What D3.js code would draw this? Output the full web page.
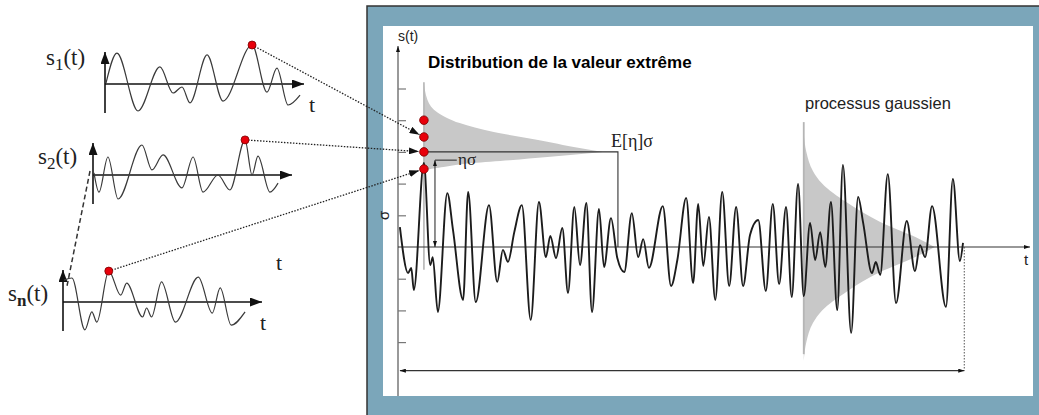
<!DOCTYPE html>
<html>
<head>
<meta charset="utf-8">
<script src="https://cdn.jsdelivr.net/npm/d3@7"></script>
<style>
  body { margin: 0; background: #fff; }
  svg { display: block; }
</style>
</head>
<body>
<svg id="chart" width="1039" height="415"></svg>
<script>
// ---- data ----
// main realisation s(t) : t in % of the window, s in units of sigma
const tMain = [0.3,1.6,2.1,2.5,4.1,5.1,5.5,6.3,7.8,8.7,10.3,11.1,12.3,14.4,15.7,16.6,17.4,18.4,19.6,21.0,
  22.3,23.4,24.1,25.0,26.0,26.9,27.9,28.8,29.8,30.7,31.8,32.6,33.7,34.7,35.8,37.0,38.0,38.8,39.7,41.9,
  43.2,44.2,45.6,46.7,47.5,48.3,49.2,50.2,51.3,52.4,53.5,54.6,55.7,57.0,58.2,59.3,60.3,61.4,62.3,63.3,
  64.2,65.2,66.0,66.8,67.6,68.5,69.5,70.4,71.7,72.8,73.6,75.0,75.6,76.3,77.5,78.8,80.5,81.8,82.6,83.4,
  84.5,86.7,87.8,88.9,89.4];
const sMain = [0.63,-0.82,-0.66,-1.36,2.65,-0.57,-0.32,-2.05,1.70,0.54,-1.67,1.74,-1.74,1.32,-1.10,-0.09,-0.47,0.47,1.32,-2.30,
  1.42,-0.32,0.35,-0.35,0.60,-1.45,1.26,-0.57,1.39,-2.05,1.20,-0.63,0.91,-0.35,-0.79,1.07,-0.32,0.25,-0.66,1.29,
  -1.23,-0.41,1.55,-1.14,1.36,-0.60,0.95,-1.67,1.74,-1.23,1.26,-1.23,0.38,0.85,-1.39,1.36,-1.17,1.26,-1.58,1.99,
  -1.55,0.76,-0.41,0.47,-0.63,1.42,-1.99,2.59,-2.71,1.58,0.76,-0.82,-0.47,-0.88,2.30,-1.77,0.82,-0.76,0.06,-0.32,
  1.29,-1.89,2.15,-0.44,0.13];
const yTicks = [-3, -2, -1, 1, 2, 3, 4, 5];

// small realisations s1, s2, sn (t from 0 to 10)
const t1 = [0.05,0.6,1.66,2.76,3.42,3.87,4.27,5.13,5.93,7.39,8.14,8.64,9.2,9.8];
const s1 = [0.03,1.03,-0.9,0.57,-0.3,-0.1,-0.63,0.97,-0.57,1.3,-0.27,0.53,-0.7,-0.37];
const t2 = [0.05,0.3,0.75,1.26,2.46,2.96,3.52,4.47,5.03,5.53,6.28,6.88,7.64,7.99,8.29,8.89,9.3];
const s2 = [0.07,-0.57,0.6,-0.8,1.0,0.17,0.67,-0.43,0.6,-0.57,0.0,-0.5,1.17,0.0,0.63,-0.57,-0.27];
const tn = [0.05,0.45,1.1,1.45,1.7,2.3,2.9,3.2,4.0,4.2,4.45,4.95,5.65,6.8,7.5,7.9,8.45,9.15];
const sn = [0.73,0.8,-0.93,-0.33,-0.67,1.03,0.23,0.63,-0.5,-0.2,-0.5,0.67,-0.67,0.83,-0.37,0.47,-0.77,-0.33];

// extreme value distribution (drawn at t = tEvd)
const tEvd = 4.1;
const vEvd = [5.21,4.64,4.23,3.91,3.63,3.38,3.12,3.0,2.84,2.74,2.65,2.52,2.43,2.21];
const dEvd = [0,0.02,0.08,0.2,0.39,0.63,0.87,1,0.69,0.48,0.27,0.11,0.02,0];
const maxima = [4.0, 3.47, 3.0, 2.46];     // red dots
const eta = 2.74, meanEta = 3.0, tMean = 34.8, tEta = 5.85;

// gaussian distribution (drawn at t = tGauss)
const tGauss = 64.2;
const vGauss = [-3.6,-3.0,-2.4,-2.0,-1.4,-0.8,-0.3,0,0.3,0.8,1.4,2.0,2.4,3.0,3.6];
const dGauss = [0,0.02,0.07,0.14,0.33,0.58,0.86,1,0.86,0.58,0.33,0.14,0.07,0.02,0];

// ---- drawing ----
const svg = d3.select("#chart");
const defs = svg.append("defs");
function marker(id, w, h) {
  defs.append("marker").attr("id", id)
    .attr("markerUnits", "userSpaceOnUse")
    .attr("markerWidth", w).attr("markerHeight", h)
    .attr("refX", w).attr("refY", h / 2).attr("orient", "auto-start-reverse")
    .append("path").attr("d", `M0,0L${w},${h / 2}L0,${h}Z`).attr("fill", "#111");
}
marker("big", 12, 9);
marker("mid", 10, 7);
marker("small", 6, 4);

// frame
svg.append("rect").attr("x", 367).attr("y", 6).attr("width", 690).attr("height", 420)
  .attr("fill", "#7ba6ba").attr("stroke", "#333").attr("stroke-width", 1.5);
svg.append("rect").attr("x", 383).attr("y", 26).attr("width", 650).attr("height", 370).attr("fill", "#fff");

const x = d3.scaleLinear().domain([0, 100]).range([398, 1030]);
const y = d3.scaleLinear().domain([0, 1]).range([247, 215.3]);

// y axis
svg.append("line").attr("x1", x(0)).attr("x2", x(0)).attr("y1", 396).attr("y2", 46)
  .attr("stroke", "#555").attr("stroke-width", 1.2).attr("marker-end", "url(#small)");
svg.append("g").attr("transform", `translate(${x(0)},0)`)
  .call(d3.axisRight(y).tickValues(yTicks).tickSize(8).tickFormat(""))
  .call(g => g.select(".domain").remove())
  .call(g => g.selectAll("line").attr("stroke", "#777").attr("stroke-width", 1.2));

// gray densities
function densityArea(t0, width, vs, ds) {
  const pts = vs.map((v, i) => ({ v, d: ds[i] }));
  const k = d3.maxIndex(ds);
  const dx = d3.scaleLinear().domain([0, 1]).range([x(t0), x(t0) + width]);
  const area = d3.area().curve(d3.curveMonotoneY)
    .y(p => y(p.v)).x0(x(t0)).x1(p => dx(p.d));
  [pts.slice(0, k + 1), pts.slice(k)].forEach(part => {
    svg.append("path").attr("d", area(part)).attr("fill", "#c8c8c8");
  });
}
densityArea(tEvd, 179, vEvd, dEvd);
densityArea(tGauss, 131, vGauss, dGauss);
svg.append("line").attr("x1", x(tEvd)).attr("x2", x(tEvd)).attr("y1", y(5.2)).attr("y2", y(-0.72))
  .attr("stroke", "#b5b5b5").attr("stroke-width", 1.6);
svg.append("line").attr("x1", x(tGauss)).attr("x2", x(tGauss)).attr("y1", y(3.94)).attr("y2", y(-3.38))
  .attr("stroke", "#b5b5b5").attr("stroke-width", 1.8);

// x axis
svg.append("line").attr("x1", x(0)).attr("x2", x(100)).attr("y1", y(0)).attr("y2", y(0))
  .attr("stroke", "#333").attr("stroke-width", 1.2).attr("marker-end", "url(#small)");

// E[eta] sigma and eta sigma markers
svg.append("polyline")
  .attr("points", [[x(tEvd), y(meanEta)], [x(tMean), y(meanEta)], [x(tMean), y(0)]].join(" "))
  .attr("fill", "none").attr("stroke", "#333").attr("stroke-width", 1.1);
svg.append("line").attr("x1", x(tEta)).attr("x2", x(tEta)).attr("y1", y(0)).attr("y2", y(eta))
  .attr("stroke", "#333").attr("stroke-width", 1.1)
  .attr("marker-end", "url(#small)").attr("marker-start", "url(#small)");
svg.append("line").attr("x1", x(tEta)).attr("x2", x(9.3)).attr("y1", y(eta)).attr("y2", y(eta))
  .attr("stroke", "#333").attr("stroke-width", 1.1);

// main signal
const lineMain = d3.line().curve(d3.curveMonotoneX).x(d => x(d[0])).y(d => y(d[1]));
svg.append("path").attr("d", lineMain(d3.zip(tMain, sMain)))
  .attr("fill", "none").attr("stroke", "#1c1c1c").attr("stroke-width", 1.9);

// time window
const tEnd = tMain[tMain.length - 1];
svg.append("line").attr("x1", x(tMain[0])).attr("x2", x(tEnd + 0.2)).attr("y1", y(-3.9)).attr("y2", y(-3.9))
  .attr("stroke", "#333").attr("stroke-width", 1.1)
  .attr("marker-end", "url(#small)").attr("marker-start", "url(#small)");
svg.append("line").attr("x1", x(tEnd + 0.2)).attr("x2", x(tEnd + 0.2)).attr("y1", y(0)).attr("y2", y(-3.9))
  .attr("stroke", "#555").attr("stroke-dasharray", "1.5,1.5");

// red dots of the maxima
svg.selectAll("circle.max").data(maxima).join("circle").attr("class", "max")
  .attr("cx", x(tEvd)).attr("cy", d => y(d)).attr("r", 4.3)
  .attr("fill", "#e8000b").attr("stroke", "#7a0000").attr("stroke-width", 0.8);

// texts of the main chart
svg.append("text").attr("x", 428).attr("y", 68).text("Distribution de la valeur extrême")
  .attr("font-family", "Liberation Sans, Arial, sans-serif").attr("font-weight", "bold").attr("font-size", 17);
svg.append("text").attr("x", 805).attr("y", 109).text("processus gaussien")
  .attr("font-family", "Liberation Sans, Arial, sans-serif").attr("font-size", 16.5).attr("fill", "#222");
svg.append("text").attr("x", 398).attr("y", 41).text("s(t)")
  .attr("font-family", "Liberation Sans, Arial, sans-serif").attr("font-size", 14).attr("fill", "#222");
svg.append("text").attr("x", 1024).attr("y", 265).text("t")
  .attr("font-family", "Liberation Sans, Arial, sans-serif").attr("font-size", 15).attr("fill", "#222");
svg.append("text").attr("transform", `translate(${x(0) - 9},${y(1)}) rotate(-90)`).attr("text-anchor", "middle")
  .text("σ").attr("font-family", "Liberation Sans, Arial, sans-serif").attr("font-size", 15).attr("fill", "#222");
svg.append("text").attr("x", x(tMean) - 7).attr("y", y(meanEta) - 5).text("E[η]σ")
  .attr("font-family", "Liberation Serif, Times New Roman, serif").attr("font-size", 18).attr("fill", "#222");
svg.append("text").attr("x", x(9.5)).attr("y", y(eta) + 5).text("ησ")
  .attr("font-family", "Liberation Serif, Times New Roman, serif").attr("font-size", 17).attr("fill", "#222");

// ---- small realisations ----
const panels = [
  { t: t1, s: s1, x0: 105, y0: 84, sub: "1", lx: 46, ly: 65, link: 1 },
  { t: t2, s: s2, x0: 93, y0: 175, sub: "2", lx: 38, ly: 164, link: 2 },
  { t: tn, s: sn, x0: 63, y0: 302, sub: "n", lx: 8, ly: 301, link: 3 }
];
panels.forEach(p => {
  const px = d3.scaleLinear().domain([0, 10]).range([p.x0, p.x0 + 199]);
  const py = d3.scaleLinear().domain([0, 1]).range([p.y0, p.y0 - 30]);
  p.px = px; p.py = py;
  svg.append("line").attr("x1", px(0)).attr("x2", px(0)).attr("y1", py(-0.97)).attr("y2", py(1.07))
    .attr("stroke", "#111").attr("stroke-width", 1.6).attr("marker-end", "url(#big)");
  svg.append("line").attr("x1", px(0)).attr("x2", px(10)).attr("y1", py(0)).attr("y2", py(0))
    .attr("stroke", "#111").attr("stroke-width", 1.6).attr("marker-end", "url(#big)");
  const line = d3.line().curve(d3.curveMonotoneX).x(d => px(d[0])).y(d => py(d[1]));
  svg.append("path").attr("d", line(d3.zip(p.t, p.s)))
    .attr("fill", "none").attr("stroke", "#3a3a3a").attr("stroke-width", 1.2);
  const lab = svg.append("text").attr("x", p.lx).attr("y", p.ly)
    .attr("font-family", "Liberation Serif, Times New Roman, serif").attr("font-size", 23).attr("fill", "#222");
  lab.append("tspan").text("s");
  lab.append("tspan").text(p.sub).attr("font-size", 17).attr("dy", 5)
    .attr("font-weight", p.sub === "n" ? "bold" : "normal");
  lab.append("tspan").text("(t)").attr("dy", -5);
});

// t labels of the small plots
[[309, 112], [276, 270], [260, 330]].forEach(([tx, ty]) => {
  svg.append("text").attr("x", tx).attr("y", ty).text("t")
    .attr("font-family", "Liberation Serif, Times New Roman, serif").attr("font-size", 22).attr("fill", "#222");
});

// dashed line between s2 and sn
svg.append("line").attr("x1", 90).attr("y1", 171).attr("x2", 67).attr("y2", 286)
  .attr("stroke", "#333").attr("stroke-width", 1.5).attr("stroke-dasharray", "5,3");

// dotted links from each maximum to the extreme value axis
panels.forEach(p => {
  const k = d3.maxIndex(p.s);
  const sx = p.px(p.t[k]), sy = p.py(p.s[k]);
  const ex = x(tEvd), ey = y(maxima[p.link]);
  const len = Math.hypot(ex - sx, ey - sy);
  const ux = (ex - sx) / len, uy = (ey - sy) / len;
  svg.append("line").attr("x1", sx + ux * 3).attr("y1", sy + uy * 3)
    .attr("x2", ex - ux * 5).attr("y2", ey - uy * 5)
    .attr("stroke", "#222").attr("stroke-width", 1.3).attr("stroke-dasharray", "1.5,1.5")
    .attr("marker-end", "url(#mid)");
  svg.append("circle").attr("cx", sx).attr("cy", sy).attr("r", 4)
    .attr("fill", "#e8000b").attr("stroke", "#7a0000").attr("stroke-width", 0.8);
});
</script>
</body>
</html>
